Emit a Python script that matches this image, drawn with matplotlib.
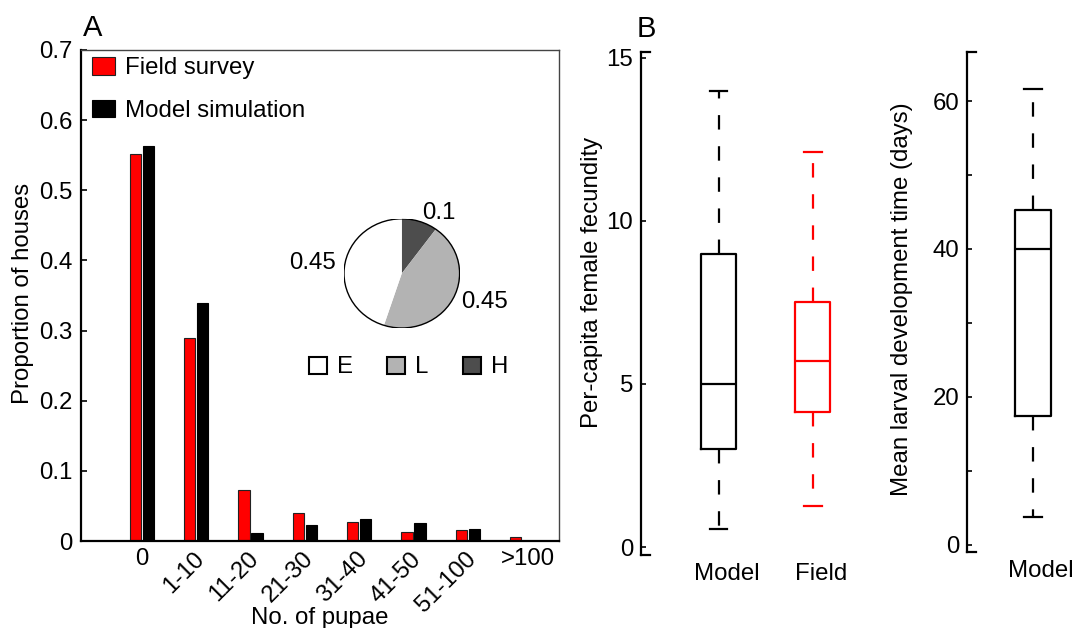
import numpy as np
import matplotlib
matplotlib.use('Agg')
import matplotlib.pyplot as plt
import matplotlib.transforms as mtransforms
from matplotlib.patches import Circle, Patch
from matplotlib.ticker import FuncFormatter

plt.rcParams['font.family'] = ['Liberation Sans', 'DejaVu Sans']
FS = 17.3
plt.rcParams['font.size'] = FS

# panel A data
categories = ['0', '1-10', '11-20', '21-30', '31-40', '41-50', '51-100', '>100']
field_survey = [0.552, 0.290, 0.072, 0.040, 0.027, 0.0125, 0.0155, 0.005]
model_sim = [0.563, 0.339, 0.011, 0.023, 0.031, 0.026, 0.017, 0.0]

pie_labels = ['H', 'L', 'E']
pie_values = [0.1, 0.45, 0.45]
pie_colors = ['#4d4d4d', '#b3b3b3', 'white']

# panel B data: whislo, q1, median, q3, whishi
fecundity_model = [0.55, 3.0, 5.0, 9.0, 14.0]
fecundity_field = [1.25, 4.13, 5.7, 7.5, 12.1]
larval_model = [3.7, 17.4, 40.0, 45.3, 61.6]

W, H = 1080, 628
fig = plt.figure(figsize=(W / 100, H / 100), dpi=100)


def px_axes(x0, y0, x1, y1):
    return fig.add_axes([x0 / W, 1 - y1 / H, (x1 - x0) / W, (y1 - y0) / H])


def shift(label, dx):
    label.set_transform(label.get_transform() +
                        mtransforms.ScaledTranslation(dx / 100, 0, fig.dpi_scale_trans))


# ---------------- panel A ----------------
ax0 = px_axes(81, 50, 559, 541)
idx = np.arange(len(categories))
bw = 0.21
ax0.bar(idx - 0.12, field_survey, bw, color='red', edgecolor='#222222', linewidth=0.8,
        label='Field survey')
ax0.bar(idx + 0.12, model_sim, bw, color='black', edgecolor='black', linewidth=0.8,
        label='Model simulation')
ax0.set_xlim(-1.12, 7.68)
ax0.set_ylim(0, 0.7)
ax0.set_yticks(np.arange(0, 0.71, 0.1))
ax0.yaxis.set_major_formatter(FuncFormatter(lambda v, p: '%g' % round(v, 2)))
ax0.tick_params(axis='y', direction='in', length=4, width=1.2, pad=6, labelsize=FS)
ax0.set_xticks(idx)
ax0.set_xticklabels(categories)
ax0.tick_params(axis='x', length=0, pad=5, labelsize=FS)
for i, lab in enumerate(ax0.get_xticklabels()):
    if 0 < i < len(categories) - 1:
        lab.set_rotation(45)
        lab.set_ha('right')
        lab.set_va('top')
        lab.set_rotation_mode('anchor')
        shift(lab, -3)
    elif i == len(categories) - 1:
        shift(lab, 6)
for s in ['left', 'bottom']:
    ax0.spines[s].set_linewidth(1.6)
for s in ['top', 'right']:
    ax0.spines[s].set_linewidth(1.0)
    ax0.spines[s].set_color('#444444')
ax0.set_ylabel('Proportion of houses', fontsize=FS)
ax0.yaxis.set_label_coords(-0.098, 0.505)
ax0.set_xlabel('No. of pupae', fontsize=FS)
ax0.xaxis.set_label_coords(0.5, -0.134)
ax0.legend(loc='upper left', bbox_to_anchor=(91.7 / W, 1 - 57 / H),
           bbox_transform=fig.transFigure, frameon=False, fontsize=FS,
           borderpad=0, borderaxespad=0, handlelength=0.97, handleheight=0.75,
           handletextpad=0.42, labelspacing=0.85)
fig.text(83 / W, 1 - 36 / H, 'A', fontsize=21)

# pie inset
axp = px_axes(344, 218.8, 459.6, 328)
wedges, texts = axp.pie(pie_values, colors=pie_colors, startangle=90, counterclock=False,
                        labels=['%g' % v for v in pie_values], labeldistance=1.16,
                        wedgeprops=dict(linewidth=0), textprops=dict(fontsize=FS))
axp.set_aspect('auto')
axp.set_xlim(-1, 1)
axp.set_ylim(-1, 1)
axp.add_patch(Circle((0, 0), 1, fill=False, edgecolor='black', linewidth=1.0))
handles = [Patch(facecolor=c, edgecolor='black', linewidth=1.5) for c in pie_colors[::-1]]
fig.legend(handles, pie_labels[::-1], loc='center left',
           bbox_to_anchor=(309 / W, 1 - 367.5 / H), ncol=3, frameon=False, fontsize=FS,
           borderpad=0, borderaxespad=0, handlelength=0.75, handleheight=0.72,
           handletextpad=0.4, columnspacing=1.45)


# ---------------- panel B ----------------
def stats(vals, label):
    lo, q1, med, q3, hi = vals
    return dict(whislo=lo, q1=q1, med=med, q3=q3, whishi=hi, label=label, fliers=[])


def style_box(ax, positions, data, colors, labels):
    for pos, vals, col, lab in zip(positions, data, colors, labels):
        ax.bxp([stats(vals, lab)], positions=[pos], widths=0.37, showfliers=False,
               boxprops=dict(color=col, linewidth=1.6),
               medianprops=dict(color=col, linewidth=1.6),
               whiskerprops=dict(color=col, linewidth=1.6, linestyle=(0, (6.5, 7.5))),
               capprops=dict(color=col, linewidth=1.6))
    ax.set_xticks(positions)
    ax.set_xticklabels(labels)
    ax.spines['right'].set_visible(False)
    for s in ['left', 'top', 'bottom']:
        ax.spines[s].set_linewidth(1.6)
    ax.tick_params(axis='x', length=0, pad=6, labelsize=FS)
    ax.tick_params(axis='y', which='both', direction='in', length=3.5, width=1.2,
                   pad=5.5, labelsize=FS)
    for lab in ax.get_xticklabels():
        shift(lab, 8)


ax1 = px_axes(640.7, 51.7, 870, 554.7)
style_box(ax1, [1, 2], [fecundity_model, fecundity_field], ['black', 'red'],
          ['Model', 'Field'])
ax1.set_xlim(0.172, 2.606)
ax1.set_ylim(-0.236, 15.19)
ax1.set_yticks([0, 5, 10, 15])
cap = 9 / 94.2
for s in ['top', 'bottom']:
    ax1.spines[s].set_bounds(0.172, 0.172 + cap)
ax1.set_ylabel('Per-capita female fecundity', fontsize=FS)
ax1.yaxis.set_label_coords(-0.164, 0.542)
fig.text(637 / W, 1 - 36.7 / H, 'B', fontsize=21)

ax2 = px_axes(967.3, 51.7, 1077, 552)
style_box(ax2, [1], [larval_model], ['black'], ['Model'])
ax2.set_xlim(0.32, 1.451)
ax2.set_ylim(-0.99, 66.67)
ax2.set_yticks([0, 20, 40, 60])
ax2.set_yticks([10, 30, 50], minor=True)
cap = 9 / 97
for s in ['top', 'bottom']:
    ax2.spines[s].set_bounds(0.32, 0.32 + cap)
ax2.set_ylabel('Mean larval development time (days)', fontsize=FS)
ax2.yaxis.set_label_coords(-0.494, 0.506)

plt.savefig('out.png', dpi=100)
